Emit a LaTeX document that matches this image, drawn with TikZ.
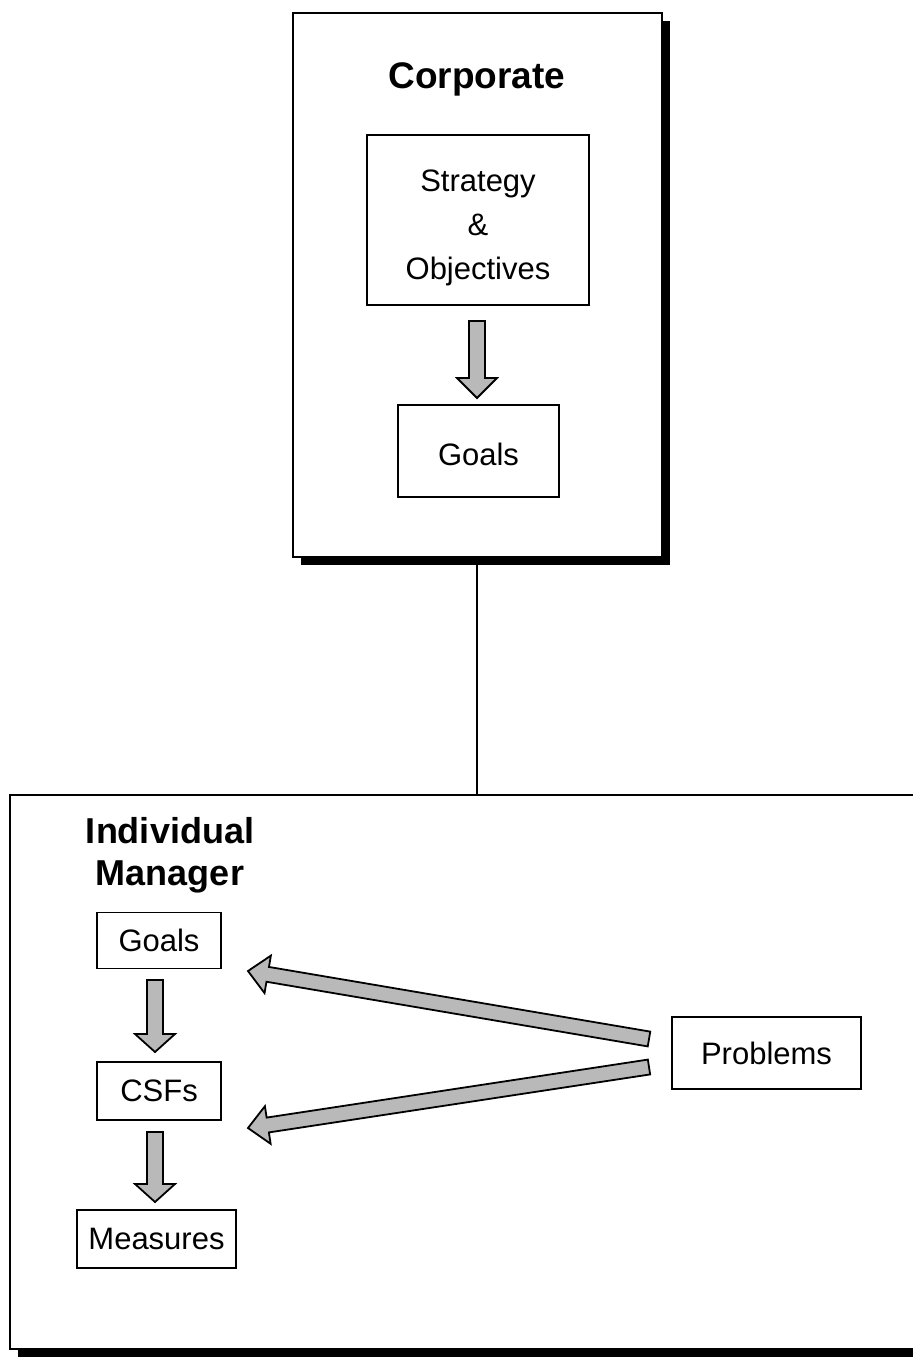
\documentclass[tikz,border=0pt]{standalone}
\usepackage{fontspec}
\setmainfont{Liberation Sans}
\usetikzlibrary{calc,shadows}

% Block arrow from #1 (tail) to #2 (tip): shaft half-width #3,
% head half-width #4, head length #5.
\newcommand\drawfatarrow[5]{%
  \coordinate (fa-base) at ($(#2)!#5!(#1)$);
  \filldraw[fatarrow]
    ($(#1)!#3!90:(#2)$) -- ($(fa-base)!#3!90:(#2)$) -- ($(fa-base)!#4!90:(#2)$)
    -- (#2)
    -- ($(fa-base)!#4!-90:(#2)$) -- ($(fa-base)!#3!-90:(#2)$) -- ($(#1)!#3!-90:(#2)$)
    -- cycle;
}

\tikzset{
  frame/.style={draw=black, line width=2pt, fill=white, inner sep=0pt,
    drop shadow={shadow xshift=8pt, shadow yshift=-8pt, fill=black, opacity=1}},
  itembox/.style={draw=black, line width=1.6pt, fill=white, inner sep=0pt,
    font=\fontsize{31}{44}\selectfont, align=center},
  itemtext/.style={inner sep=0pt, font=\fontsize{31}{44}\selectfont, align=center},
  heading/.style={font=\fontsize{36}{42}\selectfont\bfseries, inner sep=0pt, align=center},
  fatarrow/.style={fill=gray!55, draw=black, line width=1.8pt, line join=miter},
  link/.style={draw=black, line width=1.5pt}
}

\begin{document}
\begin{tikzpicture}[x=1pt, y=-1pt]
  \useasboundingbox (0,0) rectangle (913,1358);

  % connector between the two levels
  \coordinate (link-top) at (477,560);
  \coordinate (link-bot) at (477,796);
  \draw[link] (link-top) -- (link-bot);

  % corporate level
  \node[frame, minimum width=369pt, minimum height=544pt] (corp) at (477.5,285) {};
  \node[heading, font=\fontsize{37}{44}\selectfont\bfseries, anchor=base] (corptitle) at (477,88) {Corporate};
  \node[itembox, minimum width=222pt, minimum height=170pt] (strat) at (478,220) {};
  \node[itemtext] (strattext) at (478,228) {Strategy\\\&\\Objectives};
  \node[itembox, minimum width=161pt, minimum height=92pt] (cgoals) at (478.5,451) {};
  \node[itemtext] (cgoalstext) at (478.5,454) {Goals};
  \coordinate (ca-tail) at (477,321);
  \coordinate (ca-tip) at (477,398);
  \drawfatarrow{ca-tail}{ca-tip}{8pt}{20pt}{20pt}

  % individual manager level
  \node[frame, minimum width=915pt, minimum height=554pt] (indiv) at (467.5,1072) {};
  \node[heading, anchor=base] (indivtitle) at (170,885) {Individual\\Manager};
  \node[itembox, minimum width=124pt, minimum height=56pt] (igoals) at (159,940.5) {Goals};
  \node[itembox, minimum width=124pt, minimum height=58pt] (csfs) at (159,1091) {CSFs};
  \node[itembox, minimum width=159pt, minimum height=58pt] (meas) at (156.5,1239) {Measures};
  \node[itembox, minimum width=189pt, minimum height=72pt] (prob) at (766.5,1053) {Problems};

  \coordinate (ga-tail) at (155,980);
  \coordinate (ga-tip) at (155,1052);
  \drawfatarrow{ga-tail}{ga-tip}{8pt}{20pt}{18pt}
  \coordinate (ma-tail) at (155,1132);
  \coordinate (ma-tip) at (155,1202);
  \drawfatarrow{ma-tail}{ma-tip}{8pt}{20pt}{18pt}

  \coordinate (pu-tail) at (649,1039);
  \coordinate (pu-tip) at (248,971);
  \drawfatarrow{pu-tail}{pu-tip}{7.5pt}{19pt}{20pt}
  \coordinate (pl-tail) at (649,1067);
  \coordinate (pl-tip) at (248,1128);
  \drawfatarrow{pl-tail}{pl-tip}{7.5pt}{19pt}{20pt}
\end{tikzpicture}
\end{document}
